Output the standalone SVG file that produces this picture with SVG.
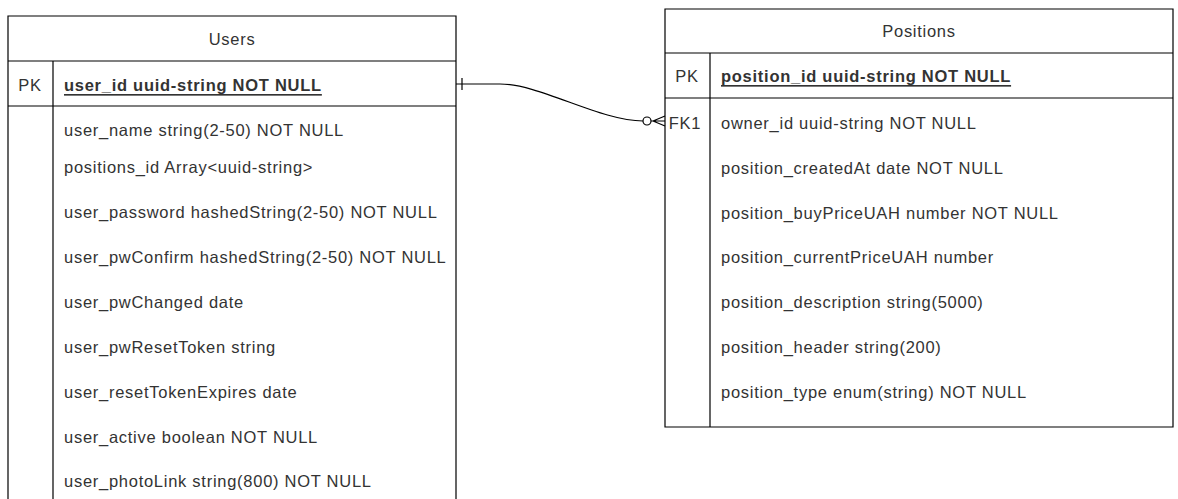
<svg xmlns="http://www.w3.org/2000/svg" width="1178" height="499" viewBox="0 0 1178 499">
<style>
text{font-family:"Liberation Sans",Arial,sans-serif;font-size:16.5px;letter-spacing:0.73px;fill:#333;dominant-baseline:central}
.h{text-anchor:middle}
.k{text-anchor:middle}
.pk{font-weight:bold;text-decoration:underline}
.b{fill:#fff;stroke:#000;stroke-width:1.2}
.l{stroke:#000;stroke-width:1.2;fill:none}
</style>
<rect width="1178" height="499" fill="#fff"/>
<g id="users">
<path class="b" d="M8,16H456V510H8Z"/>
<path class="l" d="M8,61H456M8,106H456M53,61V510"/>
<text class="h" x="232" y="39">Users</text>
<text class="k" x="30" y="85">PK</text>
<text class="pk" x="64" y="85">user_id uuid-string NOT NULL</text>
<text x="64" y="130">user_name string(2-50) NOT NULL</text>
<text x="64" y="167">positions_id Array&lt;uuid-string&gt;</text>
<text x="64" y="212">user_password hashedString(2-50) NOT NULL</text>
<text x="64" y="257">user_pwConfirm hashedString(2-50) NOT NULL</text>
<text x="64" y="302">user_pwChanged date</text>
<text x="64" y="347">user_pwResetToken string</text>
<text x="64" y="392">user_resetTokenExpires date</text>
<text x="64" y="437">user_active boolean NOT NULL</text>
<text x="64" y="481">user_photoLink string(800) NOT NULL</text>
</g>
<g id="positions">
<path class="b" d="M665,9H1173V427H665Z"/>
<path class="l" d="M665,53H1173M665,98H1173M710,53V427"/>
<text class="h" x="919" y="31">Positions</text>
<text class="k" x="687" y="76">PK</text>
<text class="pk" x="721" y="76">position_id uuid-string NOT NULL</text>
<text class="k" x="685" y="123">FK1</text>
<text x="721" y="123">owner_id uuid-string NOT NULL</text>
<text x="721" y="168">position_createdAt date NOT NULL</text>
<text x="721" y="213">position_buyPriceUAH number NOT NULL</text>
<text x="721" y="257">position_currentPriceUAH number</text>
<text x="721" y="302">position_description string(5000)</text>
<text x="721" y="347">position_header string(200)</text>
<text x="721" y="392">position_type enum(string) NOT NULL</text>
</g>
<g id="connectors">
<path class="l" d="M456,84H500C540,84 600,121 643,121"/>
<path class="l" d="M462,78V90"/>
<circle cx="647" cy="121" r="4" fill="#fff" stroke="#000" stroke-width="1.2"/>
<path class="l" d="M651,121H665M653,121L665,116M653,121L665,126"/>
</g>
</svg>
